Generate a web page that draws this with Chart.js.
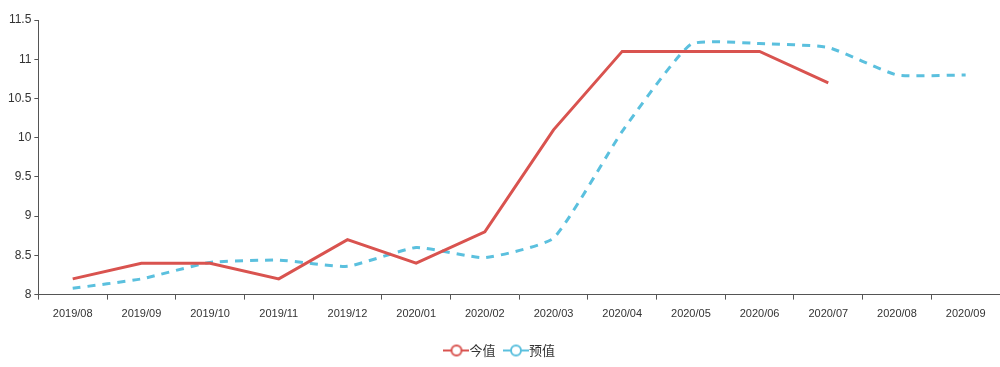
<!DOCTYPE html>
<html>
<head>
<meta charset="utf-8">
<script src="https://cdn.jsdelivr.net/npm/chart.js@4/dist/chart.umd.min.js"></script>
<style>
  html, body { margin: 0; padding: 0; background: #fff; }
  #wrap { width: 1000px; height: 367px; position: relative; }
</style>
</head>
<body>
<div id="wrap"><canvas id="chart"></canvas></div>
<script>
const months = ['2019/08', '2019/09', '2019/10', '2019/11', '2019/12', '2020/01', '2020/02',
                '2020/03', '2020/04', '2020/05', '2020/06', '2020/07', '2020/08', '2020/09'];
const actual = [8.2, 8.4, 8.4, 8.2, 8.7, 8.4, 8.8, 10.1, 11.1, 11.1, 11.1, 10.7, null, null];
const forecast = [8.08, 8.2, 8.41, 8.44, 8.36, 8.6, 8.47, 8.72, 10.08, 11.19, 11.2, 11.15, 10.8, 10.8];

const red = '#d9534f';
const blue = '#5bc0de';

// legend icon: short line with a hollow circle in the middle
function legendIcon(color) {
    const c = document.createElement('canvas');
    c.width = 26; c.height = 14;
    const g = c.getContext('2d');
    g.strokeStyle = color;
    g.lineWidth = 2;
    g.beginPath(); g.moveTo(0, 7); g.lineTo(26, 7); g.stroke();
    g.fillStyle = '#fff';
    g.beginPath(); g.arc(13, 7, 5, 0, Math.PI * 2); g.fill(); g.stroke();
    return c;
}

const ctx = document.getElementById('chart').getContext('2d');
const chart = new Chart(ctx, {
    type: 'line',
    data: {
        labels: months,
        datasets: [{
            label: '今值',
            data: actual,
            borderColor: red,
            backgroundColor: red,
            borderWidth: 3,
            pointRadius: 0,
            pointStyle: legendIcon(red),
            tension: 0
        }, {
            label: '预值',
            data: forecast,
            borderColor: blue,
            backgroundColor: blue,
            borderWidth: 3,
            borderDash: [8, 7],
            pointRadius: 0,
            pointStyle: legendIcon(blue),
            tension: 0.15
        }]
    },
    options: {
        responsive: true,
        maintainAspectRatio: false,
        animation: false,
        layout: { padding: { top: 20, right: 0, left: 5, bottom: 0 } },
        plugins: {
            legend: {
                position: 'bottom',
                title: { display: true, text: ' ', font: { size: 1 }, padding: { top: 0, bottom: 0 } },
                labels: {
                    usePointStyle: true,
                    color: '#333',
                    font: { family: '"Noto Sans CJK SC", sans-serif', size: 13 },
                    padding: 14
                }
            },
            tooltip: { enabled: false }
        },
        scales: {
            x: {
                offset: true,
                border: { color: '#555', width: 1 },
                grid: { display: true, offset: true, drawOnChartArea: false, tickLength: 5, color: '#555' },
                ticks: { color: '#333', font: { family: '"Liberation Sans", sans-serif', size: 11 }, maxRotation: 0, autoSkip: false, padding: 8 }
            },
            y: {
                min: 8,
                max: 11.5,
                border: { color: '#555', width: 1 },
                grid: { display: true, drawOnChartArea: false, tickLength: 4, color: '#555' },
                ticks: {
                    stepSize: 0.5,
                    color: '#333',
                    font: { family: '"Liberation Sans", sans-serif', size: 12 },
                    padding: 3,
                    callback: v => String(v)
                }
            }
        }
    }
});
</script>
</body>
</html>
